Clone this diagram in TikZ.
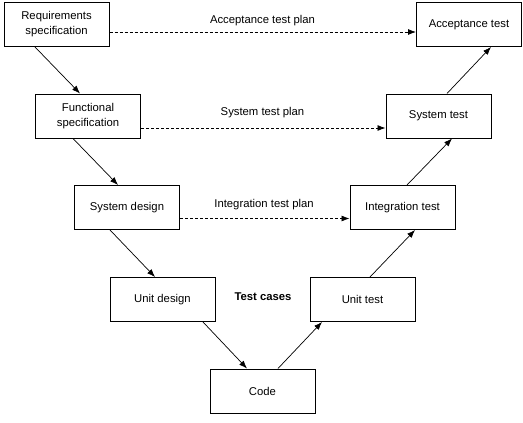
\documentclass[tikz,border=0pt]{standalone}
\usepackage{fontspec}
\setmainfont{Liberation Sans}
\usetikzlibrary{positioning, arrows.meta}
\tikzset{
  phase/.style={
    draw, rectangle, align=center, line width=1pt,
    font=\fontsize{11.3}{15}\selectfont,
    minimum width=105pt, minimum height=44pt,
    inner sep=2pt
  },
  % Test plan arrows
  testplan/.style={
    -{Latex[length=8pt,width=6pt]}, line width=0.8pt,
    dash pattern=on 3pt off 2pt
  },
  % V-model flow
  flow/.style={
    -{Latex[length=8pt,width=6pt]}, line width=0.7pt
  },
  planlabel/.style={
    font=\fontsize{11.3}{15}\selectfont, inner sep=1pt
  },
}

\begin{document}
\begin{tikzpicture}[x=1pt, y=-1pt]
  \useasboundingbox (0,0) rectangle (523,423);

  %% ── Left branch ──
  \node[phase] (reqSpec)  at (56.5,24.5)  {Requirements\\specification};
  \node[phase] (funcSpec) at (88,116)     {Functional\\specification};
  \node[phase] (sysDes)   at (127,207.5)  {System design};
  \node[phase] (unitDes)  at (162.5,299.5){Unit design};

  %% ── Bottom ──
  \node[phase] (code)     at (262.5,391)  {Code};

  %% ── Right branch ──
  \node[phase] (unitTest) at (362.5,299.5){Unit test};
  \node[phase] (intTest)  at (402.5,207.5){Integration test};
  \node[phase] (sysTest)  at (438.5,116)  {System test};
  \node[phase] (accTest)  at (469,24.5)   {Acceptance test};

  %% ── Labels ──
  \node[planlabel] (accPlan)   at (262.5,21) {Acceptance test plan};
  \node[planlabel] (sysPlan)   at (262.5,113) {System test plan};
  \node[planlabel] (intPlan)   at (264,205)  {Integration test plan};
  \node[planlabel, font=\fontsize{11.3}{15}\selectfont\bfseries] (testCases) at (263,297) {Test cases};

  %% ── Test plans ──
  \draw[testplan] ([yshift=-7.5pt]reqSpec.east) -- ([yshift=-7.5pt]accTest.west);
  \draw[testplan] ([yshift=-12pt]funcSpec.east) -- ([yshift=-12pt]sysTest.west);
  \draw[testplan] ([yshift=-11pt]sysDes.east)   -- ([yshift=-11pt]intTest.west);

  %% ── Down ──
  \draw[flow] ([xshift=-21.5pt]reqSpec.south) -- ([xshift=-8pt]funcSpec.north);
  \draw[flow] ([xshift=-15pt]funcSpec.south)  -- ([xshift=-9pt]sysDes.north);
  \draw[flow] ([xshift=-17pt]sysDes.south)    -- ([xshift=-7.5pt]unitDes.north);
  \draw[flow] ([xshift=40.5pt]unitDes.south)  -- ([xshift=-15.5pt]code.north);

  %% ── Up ──
  \draw[flow] ([xshift=15.5pt]code.north)     -- ([xshift=-40.5pt]unitTest.south);
  \draw[flow] ([xshift=7.5pt]unitTest.north)  -- ([xshift=12.5pt]intTest.south);
  \draw[flow] ([xshift=4.5pt]intTest.north)   -- ([xshift=13.5pt]sysTest.south);
  \draw[flow] ([xshift=8.5pt]sysTest.north)   -- ([xshift=22pt]accTest.south);

\end{tikzpicture}
\end{document}
